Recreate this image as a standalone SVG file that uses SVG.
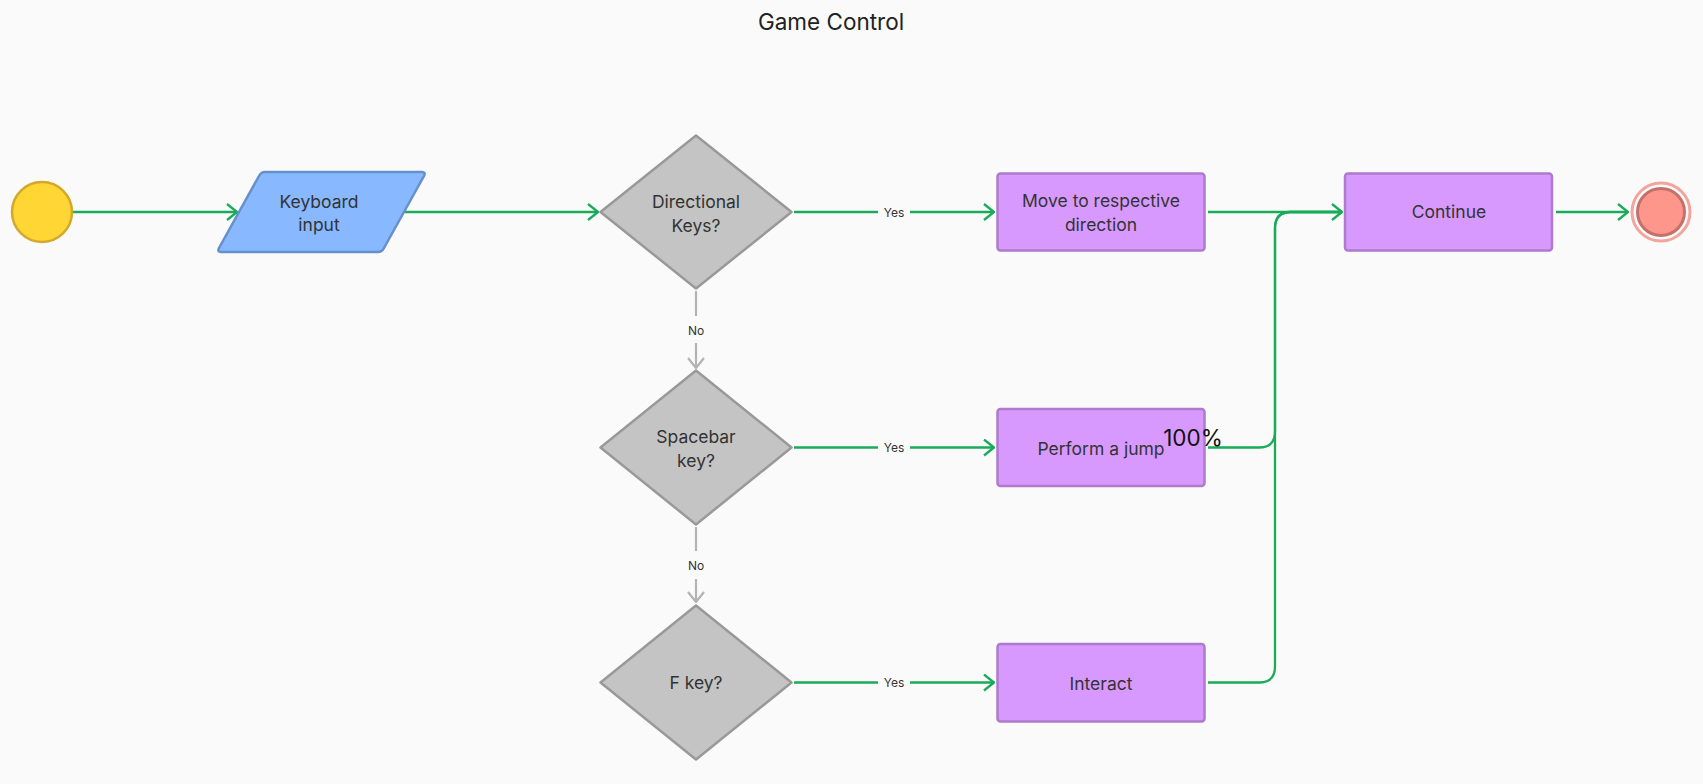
<svg xmlns="http://www.w3.org/2000/svg" width="1703" height="784" viewBox="0 0 1703 784">
<defs>
<style>
text{font-family:Inter,"Noto Sans","Liberation Sans",sans-serif;fill:#333333;text-anchor:middle}
.t{font-size:17.5px}
.lbl{font-size:12px;fill:#333333}
.title{font-size:22.5px;fill:#222222}
.g{fill:none;stroke:#1aab5a;stroke-width:2.3}
.gr{fill:none;stroke:#b3b3b3;stroke-width:2.2}
.proc{fill:#d899ff;stroke:#b07acc;stroke-width:2.5}
.dec{fill:#c4c4c4;stroke:#999999;stroke-width:2.5;stroke-linejoin:round}
.bg{fill:#fafafa}
</style>
<marker id="aG" markerUnits="userSpaceOnUse" markerWidth="12" markerHeight="18" viewBox="0 0 12 18" refX="11" refY="9" orient="auto">
<path d="M1,1 L11,9 L1,17" fill="none" stroke="#1aab5a" stroke-width="2.3"/>
</marker>
<marker id="aR" markerUnits="userSpaceOnUse" markerWidth="12" markerHeight="18" viewBox="0 0 12 18" refX="11" refY="9" orient="auto">
<path d="M1,1 L11,9 L1,17" fill="none" stroke="#b3b3b3" stroke-width="2.2"/>
</marker>
</defs>
<rect width="1703" height="784" fill="#fafafa"/>
<text class="title" x="831" y="30">Game Control</text>

<g id="connectors">
<path class="g" d="M72,212 L237,212" marker-end="url(#aG)"/>
<path class="g" d="M405,212 L598,212" marker-end="url(#aG)"/>
<path class="g" d="M794,212 L994,212" marker-end="url(#aG)"/>
<path class="g" d="M1208,212 L1342,212" marker-end="url(#aG)"/>
<path class="g" d="M1556,212 L1628,212" marker-end="url(#aG)"/>
<path class="g" d="M794,447.5 L994,447.5" marker-end="url(#aG)"/>
<path class="g" d="M794,682.5 L994,682.5" marker-end="url(#aG)"/>
<path class="g" d="M1208,447.5 L1259,447.5 Q1275,447.5 1275,431.5 L1275,228 Q1275,212 1291,212 L1342,212"/>
<path class="g" d="M1208,682.5 L1259,682.5 Q1275,682.5 1275,666.5 L1275,228 Q1275,212 1291,212 L1342,212"/>
<path class="gr" d="M696,291 L696,368" marker-end="url(#aR)"/>
<path class="gr" d="M696,527 L696,602" marker-end="url(#aR)"/>
<rect class="bg" x="878" y="203" width="32" height="18"/>
<text class="lbl" x="894" y="216.5">Yes</text>
<rect class="bg" x="878" y="438.5" width="32" height="18"/>
<text class="lbl" x="894" y="452">Yes</text>
<rect class="bg" x="878" y="673.5" width="32" height="18"/>
<text class="lbl" x="894" y="687">Yes</text>
<rect class="bg" x="684" y="316" width="24" height="27"/>
<text class="lbl" x="696" y="335">No</text>
<rect class="bg" x="684" y="551" width="24" height="28"/>
<text class="lbl" x="696" y="569.5">No</text>
</g>

<g id="start">
<circle cx="42" cy="212" r="30" fill="#ffd633" stroke="#d4a82b" stroke-width="2.5"/>
</g>

<g id="keyboard-input">
<path d="M265,172 L422,172 Q426,172 424,176 L384,248 Q382,252 378,252 L221,252 Q217,252 219,248 L259,176 Q261,172 265,172 Z" fill="#88b8ff" stroke="#6690cc" stroke-width="2.5" stroke-linejoin="round"/>
<text class="t" x="319" y="207.5">Keyboard</text>
<text class="t" x="319" y="230.5">input</text>
</g>

<g id="directional-keys">
<path class="dec" d="M696,135.5 L791.5,212 L696,288.5 L600.5,212 Z"/>
<text class="t" x="696" y="207.5">Directional</text>
<text class="t" x="696" y="231.5">Keys?</text>
</g>

<g id="spacebar-key">
<path class="dec" d="M696,370.5 L791.5,447.5 L696,524.5 L600.5,447.5 Z"/>
<text class="t" x="696" y="442.5">Spacebar</text>
<text class="t" x="696" y="466.5">key?</text>
</g>

<g id="f-key">
<path class="dec" d="M696,605.5 L791.5,682.5 L696,759.5 L600.5,682.5 Z"/>
<text class="t" x="696" y="689">F key?</text>
</g>

<g id="move">
<rect class="proc" x="997.5" y="173.5" width="207" height="77" rx="3"/>
<text class="t" x="1101" y="206.5">Move to respective</text>
<text class="t" x="1101" y="230.5">direction</text>
</g>

<g id="jump">
<rect class="proc" x="997.5" y="409" width="207" height="77" rx="3"/>
<text class="t" x="1101" y="454.5">Perform a jump</text>
<text x="1193" y="445.5" style="font-size:22.5px;fill:#111111">100%</text>
</g>

<g id="interact">
<rect class="proc" x="997.5" y="644" width="207" height="77.5" rx="3"/>
<text class="t" x="1101" y="689.5">Interact</text>
</g>

<g id="continue">
<rect class="proc" x="1345" y="173.5" width="207" height="77" rx="3"/>
<text class="t" x="1449" y="218">Continue</text>
</g>

<g id="end">
<circle cx="1661" cy="212" r="29" fill="none" stroke="#f4a59b" stroke-width="3"/>
<circle cx="1661" cy="212" r="23.5" fill="#ff968c" stroke="#c4716c" stroke-width="3"/>
</g>
</svg>
